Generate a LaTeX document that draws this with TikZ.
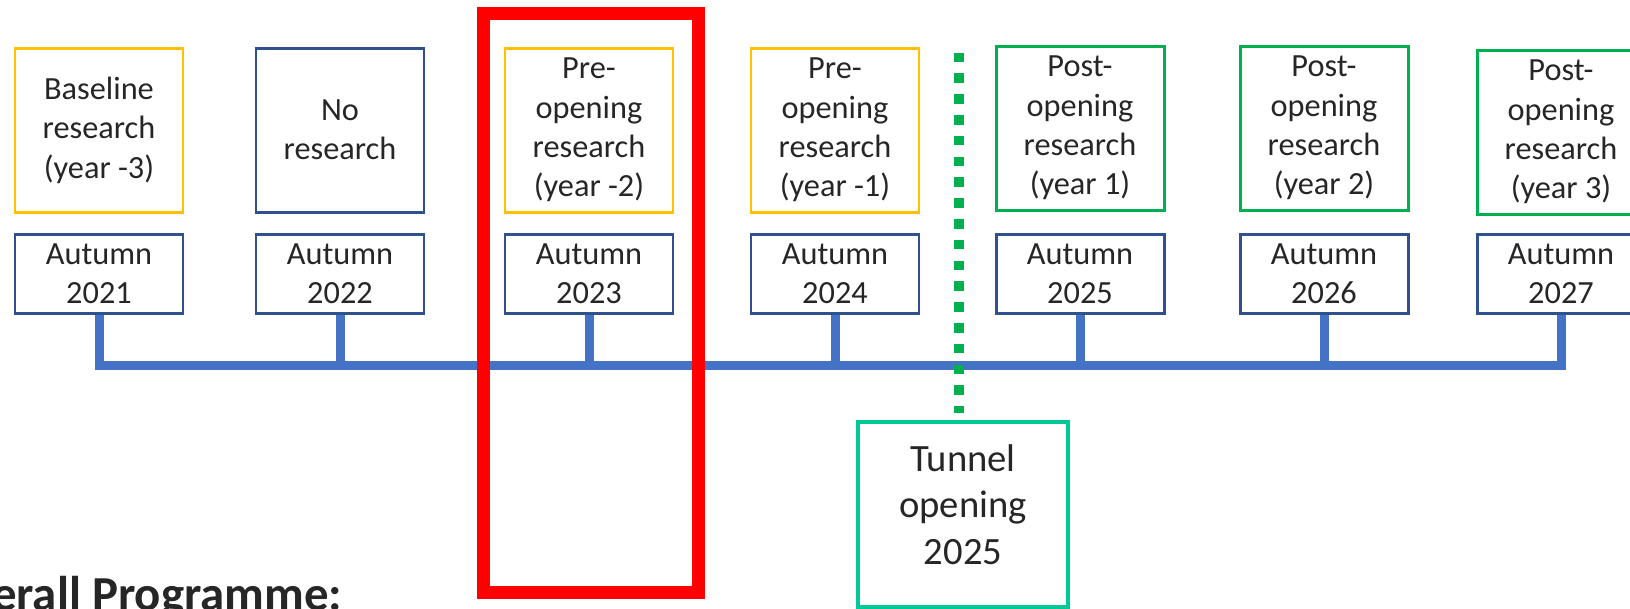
\documentclass[tikz,border=0pt]{standalone}
\usepackage{fontspec}
\setmainfont{Carlito}
\usepackage{xcolor}
\usetikzlibrary{math}
\definecolor{myyellow}{RGB}{255,192,0}
\definecolor{myblue}{RGB}{47,82,143}
\definecolor{mygreen}{RGB}{0,176,80}
\definecolor{myteal}{RGB}{0,200,150}
\definecolor{myline}{RGB}{68,114,196}
\definecolor{myred}{RGB}{255,0,0}
\definecolor{mytext}{RGB}{38,38,38}

\tikzset{
  stage/.style={draw, line width=0.85pt, text=mytext, align=center, inner sep=0pt,
    minimum width=1.68cm, minimum height=1.64cm, font=\fontsize{9.2}{11.2}\selectfont},
  date/.style={stage, draw=myblue, minimum height=0.79cm},
  tline/.style={line width=0.09cm, color=myline},
}

\begin{document}
\begin{tikzpicture}
\tikzmath{
\yR=-1.30;
\yA=-2.74;
}
\path[use as bounding box, clip] (0,0) rectangle (16.30,-6.08);

% research stages
\node[stage, draw=myyellow] (r1) at (0.99,\yR) {Baseline\\research\\(year -3)};
\node[stage, draw=myblue] (r2) at (3.40,\yR) {No\\research};
\node[stage, draw=myyellow] (r3) at (5.89,\yR) {Pre-\\opening\\research\\(year -2)};
\node[stage, draw=myyellow] (r4) at (8.35,\yR) {Pre-\\opening\\research\\(year -1)};
\node[stage, draw=mygreen] (r5) at (10.80,\yR+0.02) {Post-\\opening\\research\\(year 1)};
\node[stage, draw=mygreen] (r6) at (13.24,\yR+0.02) {Post-\\opening\\research\\(year 2)};
\node[stage, draw=mygreen] (r7) at (15.61,\yR-0.02) {Post-\\opening\\research\\(year 3)};

% dates
\node[date] (a1) at (0.99,\yA) {Autumn\\2021};
\node[date] (a2) at (3.40,\yA) {Autumn\\2022};
\node[date] (a3) at (5.89,\yA) {Autumn\\2023};
\node[date] (a4) at (8.35,\yA) {Autumn\\2024};
\node[date] (a5) at (10.80,\yA) {Autumn\\2025};
\node[date] (a6) at (13.24,\yA) {Autumn\\2026};
\node[date] (a7) at (15.61,\yA) {Autumn\\2027};

% time line
\coordinate (L) at (0,-3.65);
\draw[tline] (a1.south) -- (a1.south |- L) -- (a7.south |- L) -- (a7.south);
\draw[tline] (a2.south) -- (a2.south |- L);
\draw[tline] (a3.south) -- (a3.south |- L);
\draw[tline] (a4.south) -- (a4.south |- L);
\draw[tline] (a5.south) -- (a5.south |- L);
\draw[tline] (a6.south) -- (a6.south |- L);

% opening
\node[stage, draw=myteal, line width=1pt, minimum width=2.10cm, minimum height=1.85cm] (T) at (9.63,-5.145) {};
\node[text=mytext, align=center, inner sep=0pt, font=\fontsize{11}{13.3}\selectfont]
  (Tx) at ([yshift=0.1cm]T.center) {Tunnel\\opening\\2025};
\coordinate (D) at (9.59,-0.526);
\draw[mygreen, line width=0.095cm, dash pattern=on 0.095cm off 0.113cm, shorten >=0.07cm]
  (D) -- (D |- T.north);

% highlighted year
\node[draw=myred, line width=0.13cm, inner sep=0pt, minimum width=2.15cm,
  minimum height=5.79cm] (hl) at (5.91,-3.03) {};

\node[anchor=base east, inner sep=0pt, text=mytext,
  font=\bfseries\fontsize{13.9}{16}\selectfont] (title) at (3.43,-6.10) {Overall Programme:};
\end{tikzpicture}
\end{document}
